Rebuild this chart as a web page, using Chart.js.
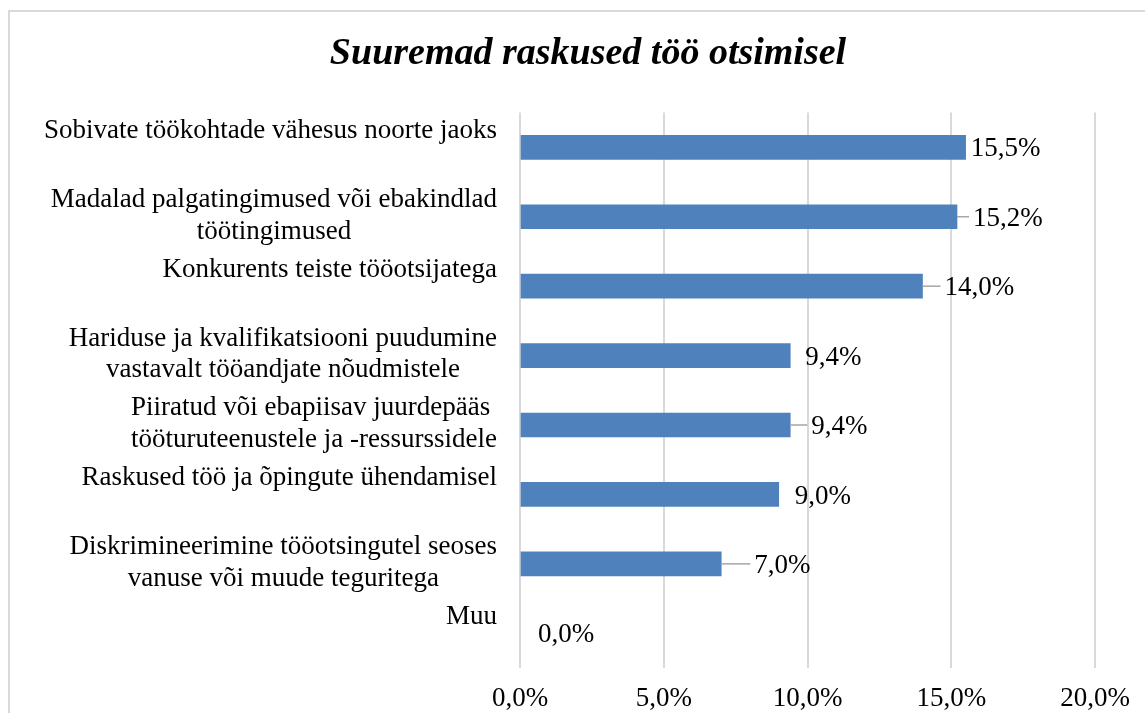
<!DOCTYPE html>
<html>
<head>
<meta charset="utf-8">
<script src="https://cdn.jsdelivr.net/npm/chart.js@4"></script>
<style>
  body { margin: 0; width: 1145px; height: 713px; overflow: hidden; background: #fff; }
  #box { position: absolute; left: 8px; top: 10px; width: 1160px; height: 720px; border: 2px solid #d9d9d9; }
</style>
</head>
<body>
<div id="box"><canvas id="mycanvas" width="1160" height="720"></canvas></div>
<script>
var categories = [
    ['Sobivate töökohtade vähesus noorte jaoks'],
    ['Madalad palgatingimused või ebakindlad', 'töötingimused'],
    ['Konkurents teiste tööotsijatega'],
    ['Hariduse ja kvalifikatsiooni puudumine', 'vastavalt tööandjate nõudmistele'],
    ['Piiratud või ebapiisav juurdepääs ', 'tööturuteenustele ja -ressurssidele'],
    ['Raskused töö ja õpingute ühendamisel'],
    ['Diskrimineerimine tööotsingutel seoses', 'vanuse või muude teguritega'],
    ['Muu']
];
var shares = [15.5, 15.2, 14.0, 9.4, 9.4, 9.0, 7.0, 0.0];
var xTicks = [0, 5, 10, 15, 20];

var serif = '"Liberation Serif", "Times New Roman", serif';

function pct(v) {
    return v.toFixed(1).replace('.', ',') + '%';
}

// category labels: block right-aligned, lines centred inside the block
var catLabels = {
    id: 'catLabels',
    afterDraw: function(chart) {
        var ctx = chart.ctx;
        var y = chart.scales.y;
        var right = chart.chartArea.left - 23;
        var lineH = 31.5;
        ctx.save();
        ctx.font = '27px ' + serif;
        ctx.fillStyle = '#000';
        ctx.textAlign = 'center';
        ctx.textBaseline = 'middle';
        categories.forEach(function(lines, i) {
            var w = 0;
            lines.forEach(function(l) { w = Math.max(w, ctx.measureText(l).width); });
            var cx = right - w / 2;
            var cy = y.getPixelForValue(i) - 1;
            lines.forEach(function(l, j) {
                ctx.fillText(l, cx, cy + (j - 0.5) * lineH);
            });
        });
        ctx.restore();
    }
};

// value labels with small leader lines
var valueLabels = {
    id: 'valueLabels',
    afterDatasetsDraw: function(chart, args, opts) {
        var ctx = chart.ctx;
        var meta = chart.getDatasetMeta(0);
        ctx.save();
        ctx.font = '27px ' + serif;
        ctx.fillStyle = '#000';
        ctx.textAlign = 'left';
        ctx.textBaseline = 'middle';
        meta.data.forEach(function(bar, i) {
            var gap = opts.gaps[i];
            var x0 = bar.x;
            if (opts.leaders[i]) {
                ctx.strokeStyle = '#a6a6a6';
                ctx.lineWidth = 1.5;
                ctx.beginPath();
                ctx.moveTo(x0, bar.y);
                ctx.lineTo(x0 + gap - 4, bar.y);
                ctx.stroke();
            }
            ctx.fillText(pct(shares[i]), x0 + gap, bar.y + 2);
        });
        ctx.restore();
    }
};

var chartdata = {
    labels: categories,
    datasets: [{
        label: 'Suuremad raskused töö otsimisel',
        data: shares,
        backgroundColor: function(c) {
            return c.raw === 0 ? 'rgba(0,0,0,0)' : '#4F81BD';
        },
        borderWidth: 0,
        barThickness: 24
    }]
};

var ctx = document.getElementById('mycanvas');

var barGraph = new Chart(ctx, {
    type: 'bar',
    data: chartdata,
    plugins: [catLabels, valueLabels],
    options: {
        indexAxis: 'y',
        responsive: false,
        animation: false,
        events: [],
        layout: { padding: { left: 71, right: 75, top: 0, bottom: 0 } },
        plugins: {
            legend: { display: false },
            tooltip: { enabled: false },
            title: {
                display: true,
                text: 'Suuremad raskused töö otsimisel',
                color: '#000',
                font: { family: serif, size: 38, weight: 'bold', style: 'italic', lineHeight: 1.2 },
                padding: { top: 19, bottom: 36 }
            },
            valueLabels: {
                gaps: [5, 16, 22, 15, 21, 16, 33, 18],
                leaders: [false, true, true, false, true, false, true, false]
            }
        },
        scales: {
            x: {
                min: xTicks[0],
                max: xTicks[xTicks.length - 1],
                afterBuildTicks: function(s) {
                    s.ticks = xTicks.map(function(v) { return { value: v }; });
                },
                border: { display: false },
                grid: { color: '#d9d9d9', lineWidth: 2, drawTicks: false },
                ticks: {
                    padding: 15,
                    color: '#000',
                    font: { family: serif, size: 27 },
                    callback: function(v) { return pct(v); }
                },
                afterFit: function(s) { s.height = 64; }
            },
            y: {
                border: { display: false },
                grid: { display: false },
                ticks: { display: false },
                afterFit: function(s) { s.width = 439; }
            }
        }
    }
});
</script>
</body>
</html>
